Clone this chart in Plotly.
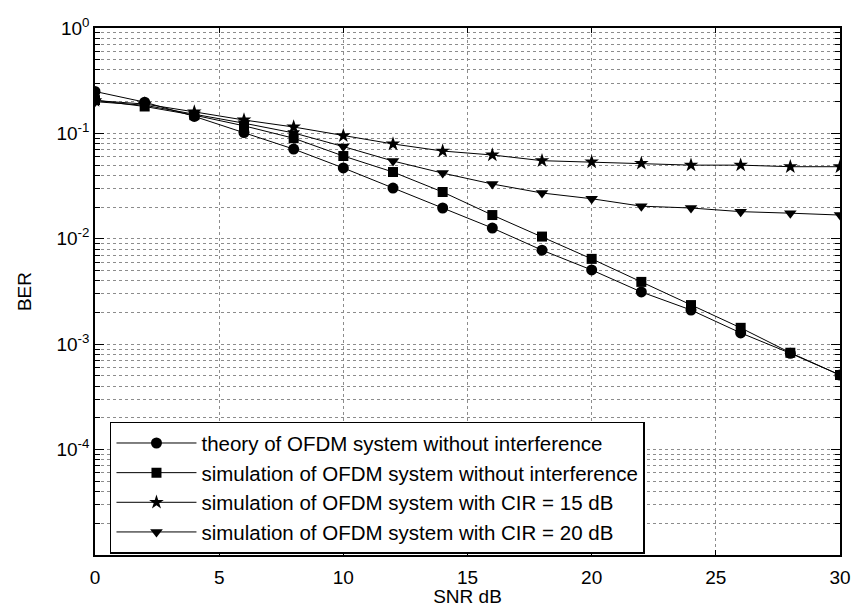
import plotly.graph_objects as go

snr = [0, 2, 4, 6, 8, 10, 12, 14, 16, 18, 20, 22, 24, 26, 28, 30]
theory = [0.25, 0.198, 0.145, 0.102, 0.071, 0.047, 0.0303, 0.0196, 0.01265, 0.0078,
          0.00506, 0.00313, 0.00211, 0.00128, 0.00082, 0.00051]
sim_noint = [0.207, 0.18, 0.149, 0.118, 0.090, 0.061, 0.043, 0.0278, 0.0168, 0.0105,
             0.00645, 0.0039, 0.00235, 0.00143, 0.00083, 0.00051]
sim_cir15 = [0.205, 0.19, 0.16, 0.134, 0.115, 0.095, 0.0794, 0.068, 0.0624, 0.0551,
             0.0536, 0.052, 0.050, 0.050, 0.0483, 0.0483]
sim_cir20 = [0.20, 0.185, 0.152, 0.125, 0.101, 0.075, 0.0547, 0.042, 0.0331, 0.0272,
             0.0240, 0.0204, 0.0196, 0.0181, 0.0175, 0.0168]

names = ["theory of OFDM system without interference",
         "simulation of OFDM system without interference",
         "simulation of OFDM system with CIR = 15 dB",
         "simulation of OFDM system with CIR = 20 dB"]

y_tickvals = [1, 0.1, 0.01, 0.001, 0.0001]
y_ticktext = ["10<sup>0</sup>", "10<sup>-1</sup>", "10<sup>-2</sup>", "10<sup>-3</sup>", "10<sup>-4</sup>"]
x_tickvals = [0, 5, 10, 15, 20, 25, 30]

minor_vals = [m * 10.0 ** e for e in range(-5, 0) for m in range(2, 10)]

FONT = "Liberation Sans, Arial, sans-serif"

fig = go.Figure()
series = [
    (theory, "circle", 11),
    (sim_noint, "square", 10),
    (sim_cir15, "star", 11),
    (sim_cir20, "triangle-down", 11),
]
for (vals, sym, sz), nm in zip(series, names):
    fig.add_trace(go.Scatter(
        x=snr, y=vals, name=nm, mode="lines+markers",
        line=dict(color="black", width=1),
        marker=dict(symbol=sym, size=sz, color="black", line=dict(width=0)),
    ))

fig.update_layout(
    width=853, height=607,
    margin=dict(l=95, r=13, t=28, b=52),
    paper_bgcolor="white", plot_bgcolor="white",
    font=dict(family=FONT, size=19, color="black"),
    showlegend=True,
    legend=dict(
        x=0.0201, y=0.253, xanchor="left", yanchor="top",
        bgcolor="white", bordercolor="black", borderwidth=1.5,
        font=dict(family=FONT, size=20.5, color="black"),
        itemwidth=80, tracegroupgap=0,
    ),
)
fig.update_xaxes(
    range=[0, 30], tickmode="array", tickvals=x_tickvals,
    ticks="inside", ticklen=5, tickcolor="black",
    showline=True, linecolor="black", linewidth=1.5, mirror="ticks",
    showgrid=True, gridcolor="#8c8c8c", griddash="dot", gridwidth=1,
    zeroline=False, ticklabelstandoff=4, automargin=False,
    title=dict(text="SNR dB", standoff=16, font=dict(size=19)),
)
fig.update_yaxes(
    type="log", range=[-5, 0], tickmode="array",
    tickvals=y_tickvals, ticktext=y_ticktext,
    ticks="inside", ticklen=9, tickcolor="black",
    showline=True, linecolor="black", linewidth=1.5, mirror="ticks",
    showgrid=True, gridcolor="#8c8c8c", griddash="dot", gridwidth=1,
    zeroline=False, automargin=False,
    minor=dict(tickmode="array", tickvals=minor_vals, ticks="inside", ticklen=5,
               tickcolor="black", showgrid=True, gridcolor="#8c8c8c",
               griddash="dot", gridwidth=1),
    title=dict(text="BER", standoff=20, font=dict(size=19)),
)

fig.write_html("out.html")
